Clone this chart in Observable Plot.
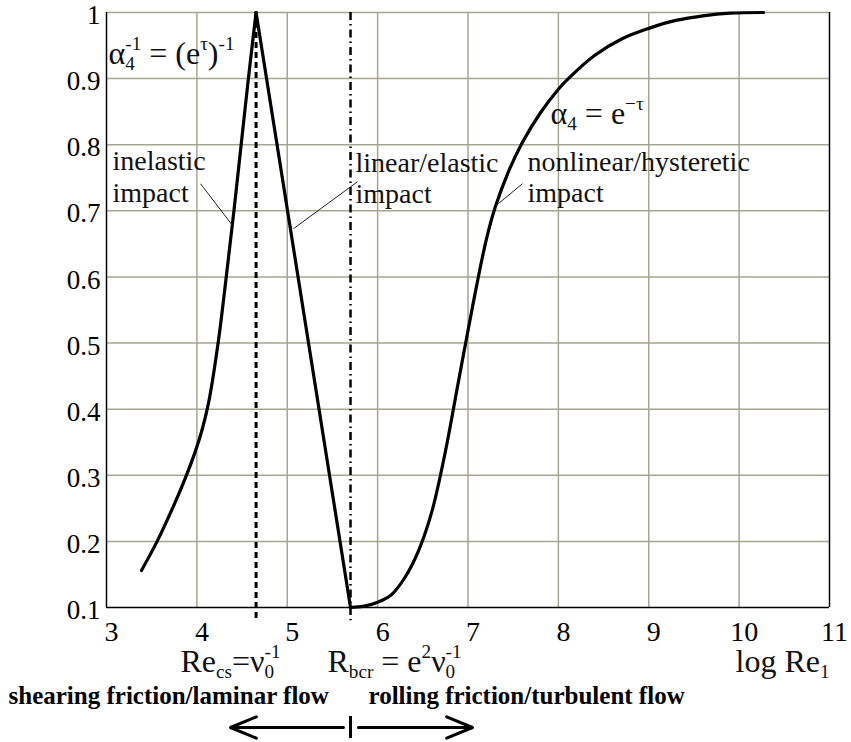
<!DOCTYPE html>
<html>
<head>
<meta charset="utf-8">
<script src="https://cdn.jsdelivr.net/npm/d3@7"></script>
<script src="https://cdn.jsdelivr.net/npm/@observablehq/plot@0.6"></script>
<style>
  html, body { margin: 0; padding: 0; background: #fff; }
  #chart { width: 851px; height: 742px; }
  #chart svg, #chart svg text, #chart svg tspan {
    font-family: "Liberation Serif", "Times New Roman", Times, "Tinos", "Noto Serif", "DejaVu Serif", "FreeSerif", "Nimbus Roman", serif !important;
  }
</style>
</head>
<body>
<div id="chart"></div>
<script>
// ---------- data ----------
const xTicks = [3, 4, 5, 6, 7, 8, 9, 10, 11];
const yTicks = [0.1, 0.2, 0.3, 0.4, 0.5, 0.6, 0.7, 0.8, 0.9, 1];

// left rising branch (inelastic impact)
const leftX = [3.387, 3.56, 3.73, 3.87, 3.98, 4.06, 4.13, 4.235, 4.325, 4.41, 4.49, 4.57, 4.655];
const leftY = [0.156, 0.2, 0.25, 0.295, 0.335, 0.37, 0.41, 0.5, 0.6, 0.7, 0.8, 0.9, 1.0];

// straight descending branch (linear/elastic impact)
const dropX = [4.655, 5.70];
const dropY = [1.0, 0.1];

// right sigmoid branch (nonlinear/hysteretic impact)
const rightX = [5.70, 5.85, 6.00, 6.15, 6.30, 6.45, 6.60, 6.75, 6.90, 7.05, 7.20, 7.30, 7.45, 7.60, 7.80, 8.00, 8.11, 8.40, 8.70, 9.00, 9.30, 9.60, 9.90, 10.27];
const rightY = [0.100, 0.102, 0.108, 0.119, 0.145, 0.185, 0.245, 0.336, 0.446, 0.555, 0.655, 0.705, 0.760, 0.803, 0.848, 0.884, 0.900, 0.935, 0.960, 0.976, 0.988, 0.995, 0.999, 1.000];

// critical vertical lines
const reCsX = [4.655];
const rBcrX = [5.70];
const critTop = 1.0, critBottom = 0.08;

// annotation labels
const labelText = ["inelastic", "impact", "linear/elastic", "impact", "nonlinear/hysteretic", "impact"];
const labelX = [3.066, 3.066, 5.755, 5.755, 7.658, 7.658];
const labelY = [0.7746, 0.7262, 0.7716, 0.7247, 0.7731, 0.7262];

// leader lines
const leadX1 = [4.040, 5.777, 7.603];
const leadY1 = [0.741, 0.744, 0.741];
const leadX2 = [4.394, 5.069, 7.337];
const leadY2 = [0.678, 0.673, 0.711];

// formulas (plain text key + rich parts)
const formulaText = ["α4-1 = (eτ)-1", "α4 = e−τ", "Recs=ν0-1", "Rbcr = e2ν0-1", "log Re1"];
const formulaParts = [
  [["α"], ["4", "sub"], ["-1", "supback"], [" = (e"], ["τ", "sup"], [")"], ["-1", "sup"]],
  [["α"], ["4", "sub"], [" = e"], ["−τ", "sup"]],
  [["Re"], ["cs", "sub"], ["=ν"], ["0", "sub"], ["-1", "supback"]],
  [["R"], ["bcr", "sub"], [" = e"], ["2", "sup"], ["ν"], ["0", "sub"], ["-1", "supback"]],
  [["log Re"], ["1", "sub"]]
];
const formulaX = [3.022, 7.913, 3.819, 5.445, 9.960];
const formulaY = [0.9383, 0.8475, 0.0186, 0.0186, 0.0186];

// flow regime labels
const regimeText = ["shearing friction/laminar flow", "rolling friction/turbulent flow"];
const regimeX = [1.916, 5.899];
const regimeY = [-0.0346, -0.0346];

// regime arrows
const arrowX1 = [5.622, 5.788];
const arrowX2 = [4.372, 7.050];
const arrowY = -0.0815;
const dividerX = [5.70];
const dividerY1 = -0.0649, dividerY2 = -0.0982;

// ---------- build ----------
const gridColor = "#a6a690";
const serif = "'Liberation Serif', 'Times New Roman', Times, 'Noto Serif', 'DejaVu Serif', serif";
const toPts = (xs, ys) => xs.map((x, i) => ({x, y: ys[i]}));

const labels = labelText.map((t, i) => ({t, x: labelX[i], y: labelY[i]}));
const leaders = leadX1.map((x1, i) => ({x1, y1: leadY1[i], x2: leadX2[i], y2: leadY2[i]}));
const formulas = formulaText.map((t, i) => ({t, x: formulaX[i], y: formulaY[i]}));
const regimes = regimeText.map((t, i) => ({t, x: regimeX[i], y: regimeY[i]}));
const arrows = arrowX1.map((x1, i) => ({x1, x2: arrowX2[i], y: arrowY}));

const plot = Plot.plot({
  width: 851,
  height: 742,
  marginLeft: 106,
  marginRight: 22,
  marginTop: 12,
  marginBottom: 135,
  x: {domain: [3, 11]},
  y: {domain: [0.1, 1]},
  style: {fontFamily: serif, fontSize: "28px", background: "#fff", color: "#000", overflow: "visible"},
  marks: [
    Plot.ruleX(xTicks.slice(1, -1), {stroke: gridColor, strokeWidth: 1.5}),
    Plot.ruleY(yTicks.slice(1), {stroke: gridColor, strokeWidth: 1.5}),
    Plot.ruleX([xTicks[0], xTicks[xTicks.length - 1]], {stroke: "#000", strokeWidth: 1.5}),
    Plot.ruleY([yTicks[0]], {stroke: "#000", strokeWidth: 1.5}),
    Plot.axisX(xTicks, {tickSize: 0, tickPadding: 14, dx: 5, label: null, fontSize: 28, fontFamily: serif, tickFormat: d => String(d)}),
    Plot.axisY(yTicks, {tickSize: 0, tickPadding: 6, dy: 3, label: null, fontSize: 27, fontFamily: serif, tickFormat: d => String(d)}),
    // critical lines
    Plot.ruleX(reCsX, {y1: critTop, y2: critBottom, stroke: "#000", strokeWidth: 3, strokeDasharray: "6,4"}),
    Plot.ruleX(rBcrX, {y1: critTop, y2: critBottom, stroke: "#000", strokeWidth: 2.5, strokeDasharray: "8,4,1.5,4"}),
    // curve
    Plot.line(toPts(leftX, leftY), {x: "x", y: "y", curve: "catmull-rom", stroke: "#000", strokeWidth: 3.2}),
    Plot.line(toPts(dropX, dropY), {x: "x", y: "y", curve: "linear", stroke: "#000", strokeWidth: 3.2}),
    Plot.line(toPts(rightX, rightY), {x: "x", y: "y", curve: "catmull-rom", stroke: "#000", strokeWidth: 3.2}),
    // leaders
    Plot.link(leaders, {x1: "x1", y1: "y1", x2: "x2", y2: "y2", stroke: "#222", strokeWidth: 1}),
    // labels
    Plot.text(labels, {x: "x", y: "y", text: "t", textAnchor: "start", fontSize: 28, fontFamily: serif, fill: "#111"}),
    Plot.text(formulas, {x: "x", y: "y", text: "t", textAnchor: "start", fontSize: 32, fontFamily: serif, fill: "#111"}),
    Plot.text(regimes, {x: "x", y: "y", text: "t", textAnchor: "start", fontSize: 25, fontWeight: "bold", fontFamily: serif, fill: "#000"}),
    // arrows
    Plot.arrow(arrows, {x1: "x1", x2: "x2", y1: "y", y2: "y", stroke: "#000", strokeWidth: 3, headLength: 14, headAngle: 45}),
    Plot.ruleX(dividerX, {y1: dividerY1, y2: dividerY2, stroke: "#000", strokeWidth: 3})
  ]
});

document.getElementById("chart").appendChild(plot);

// rich formatting for formulas (sub/superscripts)
const NS = "http://www.w3.org/2000/svg";
function buildFormula(el, parts, size) {
  while (el.firstChild) el.removeChild(el.firstChild);
  let offset = 0, prev = null;
  for (const [t, kind] of parts) {
    const ts = document.createElementNS(NS, "tspan");
    ts.textContent = t;
    let target = 0, fs = size;
    if (kind === "sub") { target = 0.2 * size; fs = 0.6 * size; }
    else if (kind === "sup" || kind === "supback") { target = -0.42 * size; fs = 0.6 * size; }
    ts.setAttribute("font-size", fs);
    ts.setAttribute("dy", target - offset);
    offset = target;
    el.appendChild(ts);
    if (kind === "supback" && prev) ts.setAttribute("dx", -prev.getComputedTextLength());
    prev = ts;
  }
}
plot.querySelectorAll("text").forEach(el => {
  const idx = formulaText.indexOf(el.textContent);
  if (idx >= 0) buildFormula(el, formulaParts[idx], 32);
});
</script>
</body>
</html>
